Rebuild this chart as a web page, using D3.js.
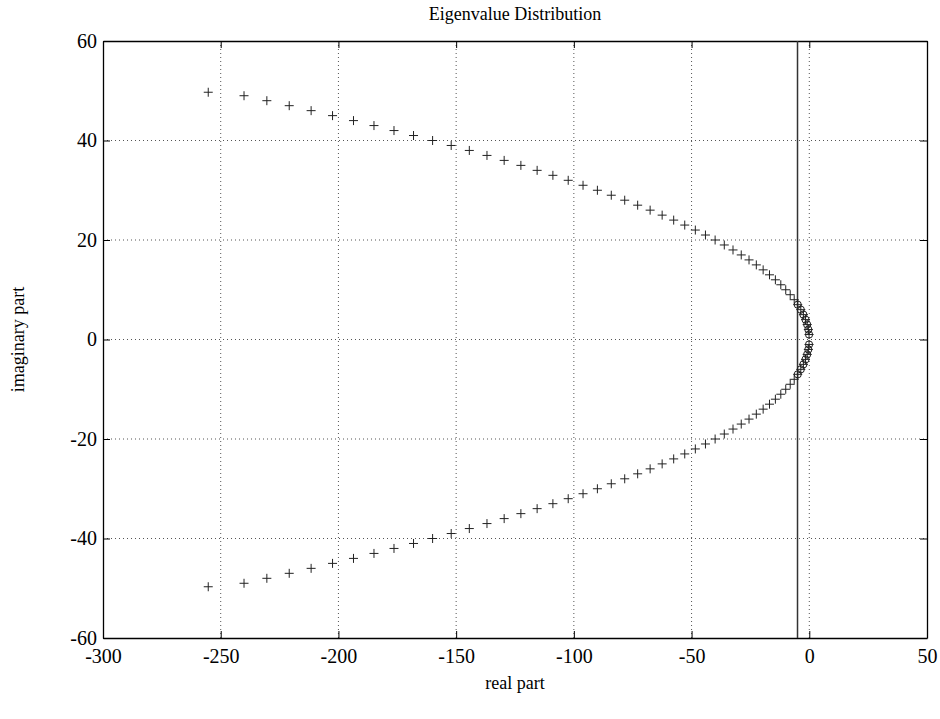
<!DOCTYPE html>
<html>
<head>
<meta charset="utf-8">
<script src="https://cdn.jsdelivr.net/npm/d3@7"></script>
<style>
  body { margin: 0; background: #fff; }
  svg { display: block; }
  text { font-family: "Liberation Serif", "DejaVu Serif", serif; fill: #000; }
</style>
</head>
<body>
<svg id="chart" width="940" height="719"></svg>
<script>
// Eigenvalues (upper branch, then its conjugates)
var realPart = [-255.3, -240.1, -230.4, -220.9, -211.6, -202.5, -193.6, -184.9, -176.4, -168.1,
                -160.0, -152.1, -144.4, -136.9, -129.6, -122.5, -115.6, -108.9, -102.4, -96.1,
                -90.0, -84.1, -78.4, -72.9, -67.6, -62.5, -57.6, -52.9, -48.4, -44.1,
                -40.0, -36.1, -32.4, -28.9, -25.6, -22.5, -19.6, -16.9, -14.4, -12.1,
                -10.0, -8.1, -6.4, -4.9, -3.6, -2.5, -1.6, -0.9, -0.4, -0.1];
var imagUpper = [49.7, 49, 48, 47, 46, 45, 44, 43, 42, 41,
                 40, 39, 38, 37, 36, 35, 34, 33, 32, 31,
                 30, 29, 28, 27, 26, 25, 24, 23, 22, 21,
                 20, 19, 18, 17, 16, 15, 14, 13, 12, 11,
                 10, 9, 8, 7, 6, 5, 4, 3, 2, 1];
var imagLower = [-49.7, -49, -48, -47, -46, -45, -44, -43, -42, -41,
                 -40, -39, -38, -37, -36, -35, -34, -33, -32, -31,
                 -30, -29, -28, -27, -26, -25, -24, -23, -22, -21,
                 -20, -19, -18, -17, -16, -15, -14, -13, -12, -11,
                 -10, -9, -8, -7, -6, -5, -4, -3, -2, -1];
var cutoff = -5;   // vertical line; eigenvalues right of it are circled

var xTicks = [-300, -250, -200, -150, -100, -50, 0, 50];
var yTicks = [-60, -40, -20, 0, 20, 40, 60];

/* ---------- layout ---------- */
var margin = { left: 103, right: 13, top: 41, bottom: 81 };
var W = 940, H = 719;
var plotW = W - margin.left - margin.right;
var plotH = H - margin.top - margin.bottom;

var svg = d3.select('#chart');
var g = svg.append('g').attr('transform', 'translate(' + margin.left + ',' + margin.top + ')');

var x = d3.scaleLinear().domain([-300, 50]).range([0, plotW]);
var y = d3.scaleLinear().domain([-60, 60]).range([plotH, 0]);

// build point list from the arrays
var points = [];
realPart.forEach(function(r, i) {
	points.push({ re: r, im: imagUpper[i] });
	points.push({ re: r, im: imagLower[i] });
});

/* ---------- grid ---------- */
var grid = g.append('g').attr('class', 'grid');
grid.selectAll('line.gx')
	.data(xTicks.slice(1, -1))
	.enter().append('line')
	.attr('x1', function(d) { return x(d); })
	.attr('x2', function(d) { return x(d); })
	.attr('y1', 0).attr('y2', plotH)
	.attr('stroke', '#555').attr('stroke-width', 1)
	.attr('stroke-dasharray', '1,3');
grid.selectAll('line.gy')
	.data(yTicks.slice(1, -1))
	.enter().append('line')
	.attr('y1', function(d) { return y(d); })
	.attr('y2', function(d) { return y(d); })
	.attr('x1', 0).attr('x2', plotW)
	.attr('stroke', '#555').attr('stroke-width', 1)
	.attr('stroke-dasharray', '1,3');

/* ---------- axes (ticks inward, box all round) ---------- */
var fmt = function(d) { return String(d); };

g.append('g').attr('transform', 'translate(0,' + plotH + ')')
	.call(d3.axisBottom(x).tickValues(xTicks).tickFormat(fmt).tickSizeInner(-7).tickSizeOuter(0).tickPadding(11))
	.call(styleAxis);
g.append('g')
	.call(d3.axisLeft(y).tickValues(yTicks).tickFormat(fmt).tickSizeInner(-7).tickSizeOuter(0).tickPadding(6))
	.call(styleAxis);
g.append('g')
	.call(d3.axisTop(x).tickValues(xTicks).tickFormat('').tickSizeInner(-7).tickSizeOuter(0))
	.call(styleAxis);
g.append('g').attr('transform', 'translate(' + plotW + ',0)')
	.call(d3.axisRight(y).tickValues(yTicks).tickFormat('').tickSizeInner(-7).tickSizeOuter(0))
	.call(styleAxis);

function styleAxis(sel) {
	sel.select('.domain').attr('stroke', '#000').attr('stroke-width', 1.3);
	sel.selectAll('.tick line').attr('stroke', '#000').attr('stroke-width', 1);
	sel.selectAll('.tick text')
		.attr('font-size', 20)
		.attr('font-family', '"Liberation Serif", serif')
		.attr('fill', '#000');
}

/* ---------- cutoff line ---------- */
g.append('line')
	.attr('x1', x(cutoff)).attr('x2', x(cutoff))
	.attr('y1', 0).attr('y2', plotH)
	.attr('stroke', '#333').attr('stroke-width', 1.5);

/* ---------- markers ---------- */
var arm = 4.5;
var marks = g.append('g').attr('class', 'marks');
marks.selectAll('path.plus')
	.data(points)
	.enter().append('path')
	.attr('d', function(d) {
		var cx = x(d.re), cy = y(d.im);
		return 'M' + (cx - arm) + ',' + cy + 'H' + (cx + arm) + 'M' + cx + ',' + (cy - arm) + 'V' + (cy + arm);
	})
	.attr('stroke', '#222').attr('stroke-width', 1).attr('fill', 'none');

marks.selectAll('circle.ring')
	.data(points.filter(function(d) { return d.re > cutoff; }))
	.enter().append('circle')
	.attr('cx', function(d) { return x(d.re); })
	.attr('cy', function(d) { return y(d.im); })
	.attr('r', 3.6)
	.attr('fill', 'none').attr('stroke', '#222').attr('stroke-width', 1);

/* ---------- titles ---------- */
svg.append('text')
	.attr('x', margin.left + plotW / 2).attr('y', 20)
	.attr('text-anchor', 'middle').attr('font-size', 18)
	.text('Eigenvalue Distribution');
svg.append('text')
	.attr('x', margin.left + plotW / 2).attr('y', 689)
	.attr('text-anchor', 'middle').attr('font-size', 18)
	.text('real part');
svg.append('text')
	.attr('transform', 'translate(24,' + (margin.top + plotH / 2) + ') rotate(-90)')
	.attr('text-anchor', 'middle').attr('font-size', 18)
	.text('imaginary part');
</script>
</body>
</html>
